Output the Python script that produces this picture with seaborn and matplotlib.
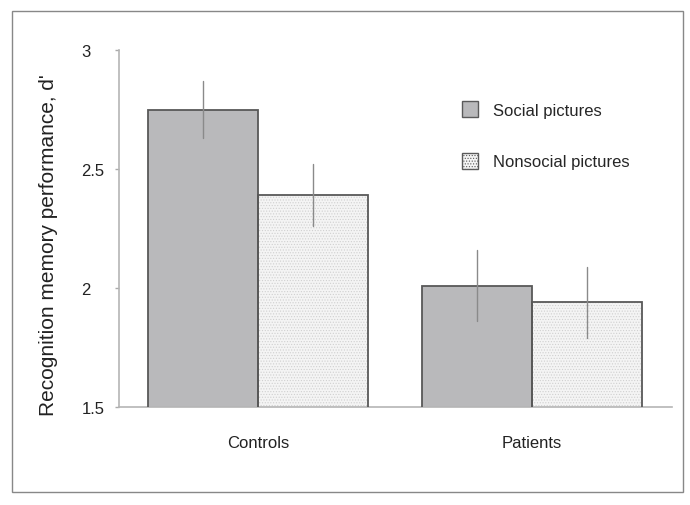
import numpy as np
import pandas as pd
import matplotlib
matplotlib.use("Agg")
import matplotlib.pyplot as plt
import matplotlib.patches as mpatches
import seaborn as sns

# values
groups = ["Controls", "Patients"]
conditions = ["Social pictures", "Nonsocial pictures"]
social_mean = [2.75, 2.01]
nonsocial_mean = [2.39, 1.94]
social_err = [0.12, 0.15]
nonsocial_err = [0.13, 0.15]
yticks = [1.5, 2, 2.5, 3]
ytick_labels = ["1.5", "2", "2.5", "3"]

df = pd.DataFrame({
    "group": groups * 2,
    "condition": [conditions[0]] * 2 + [conditions[1]] * 2,
    "dprime": social_mean + nonsocial_mean,
    "err": social_err + nonsocial_err,
})

sns.set_style("white")
plt.rcParams["font.family"] = ["Liberation Sans", "DejaVu Sans"]
plt.rcParams["hatch.linewidth"] = 0.5

fig = plt.figure(figsize=(6.9, 5.06), dpi=100)
ax = fig.add_axes([0.1725, 0.1937, 0.8015, 0.7053])

fills = {"Social pictures": "#b9b9bb", "Nonsocial pictures": "#f4f4f4"}
sns.barplot(data=df, x="group", y="dprime", hue="condition", order=groups,
            hue_order=conditions, palette=fills, errorbar=None, width=0.8,
            saturation=1, linewidth=0, legend=False, ax=ax)

# texture + outline, then error bars at each bar centre
for container, cond in zip(ax.containers, conditions):
    sub = df[df.condition == cond].set_index("group").loc[groups]
    for bar, m, e in zip(container, sub["dprime"], sub["err"]):
        if cond == "Nonsocial pictures":
            bar.set_hatch("......")
            bar.set_edgecolor("#d0d0d0")
            bar.set_linewidth(0)
        ax.add_patch(mpatches.Rectangle(bar.get_xy(), bar.get_width(), bar.get_height(),
                                        fill=False, edgecolor="#585858", linewidth=1.3, zorder=3))
        cx = bar.get_x() + bar.get_width() / 2
        ax.plot([cx, cx], [m - e, m + e], color="#8a8a8a", linewidth=1, zorder=4)

ax.set_ylim(1.5, 3)
ax.set_xlim(-0.507, 1.511)
ax.set_yticks(yticks)
ax.set_yticklabels(ytick_labels, ha="left")
ax.set_xlabel("")
ax.set_ylabel("Recognition memory performance, d'", fontsize=15, color="#222222", va="center")
ax.yaxis.set_label_coords(-0.128, 0.457)
ax.tick_params(axis="y", left=True, length=3, width=1, color="#aaaaaa", labelsize=12,
               labelcolor="#222222", pad=24)
ax.tick_params(axis="x", bottom=False, labelsize=12, labelcolor="#222222", pad=17)
for s in ["top", "right"]:
    ax.spines[s].set_visible(False)
for s in ["left", "bottom"]:
    ax.spines[s].set_color("#b5b5b5")
    ax.spines[s].set_linewidth(1.2)

handles = [mpatches.Patch(facecolor=fills[c], edgecolor="#5a5a5a", linewidth=1,
                          hatch=("......" if c == "Nonsocial pictures" else None))
           for c in conditions]
ax.legend(handles, conditions, loc="upper left", bbox_to_anchor=(462 / 690, 1 - 102 / 506),
          bbox_transform=fig.transFigure, frameon=False, fontsize=12,
          borderpad=0, borderaxespad=0,
          handlelength=0.96, handleheight=1.1, labelspacing=2.1, handletextpad=0.9)

fig.add_artist(mpatches.Rectangle((12 / 690, 1 - 493 / 506), 671 / 690, 481 / 506,
                                  transform=fig.transFigure, fill=False,
                                  edgecolor="#888888", linewidth=1))

fig.savefig("out.png", dpi=100, facecolor="white")
